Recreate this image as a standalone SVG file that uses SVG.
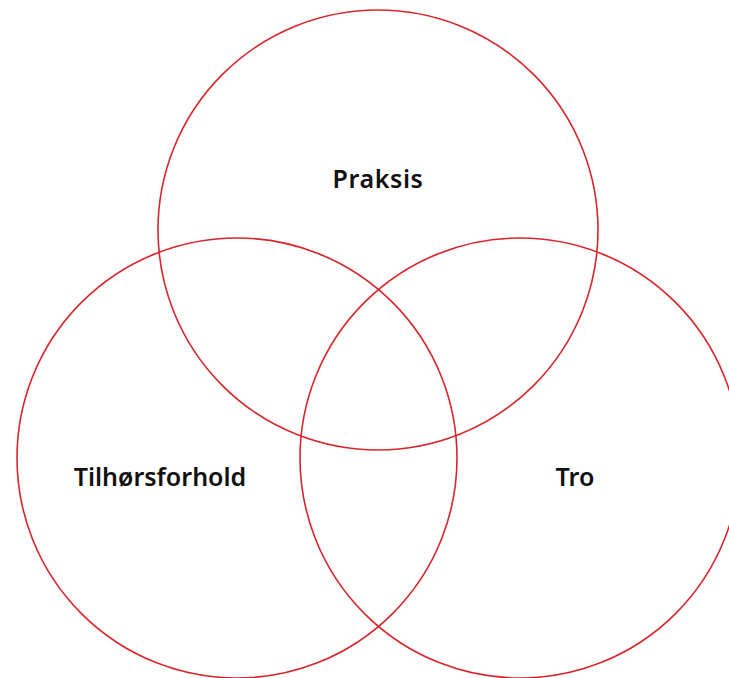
<svg xmlns="http://www.w3.org/2000/svg" width="729" height="678" viewBox="0 0 729 678">
<style>
.c{fill:none;stroke:#d7262b;stroke-width:1.6}
.t{font-family:"Noto Sans","Open Sans",sans-serif;font-weight:600;font-size:25px;fill:#111;text-anchor:middle}
</style>
<rect width="729" height="678" fill="#fff"/>
<g id="praksis"><circle class="c" cx="378" cy="230" r="220"/><text class="t" x="378" y="188" letter-spacing="0.6">Praksis</text></g>
<g id="tilhorsforhold"><circle class="c" cx="237" cy="458" r="220"/><text class="t" x="160" y="486">Tilhørsforhold</text></g>
<g id="tro"><circle class="c" cx="520" cy="458" r="220"/><text class="t" x="575" y="486">Tro</text></g>
</svg>
